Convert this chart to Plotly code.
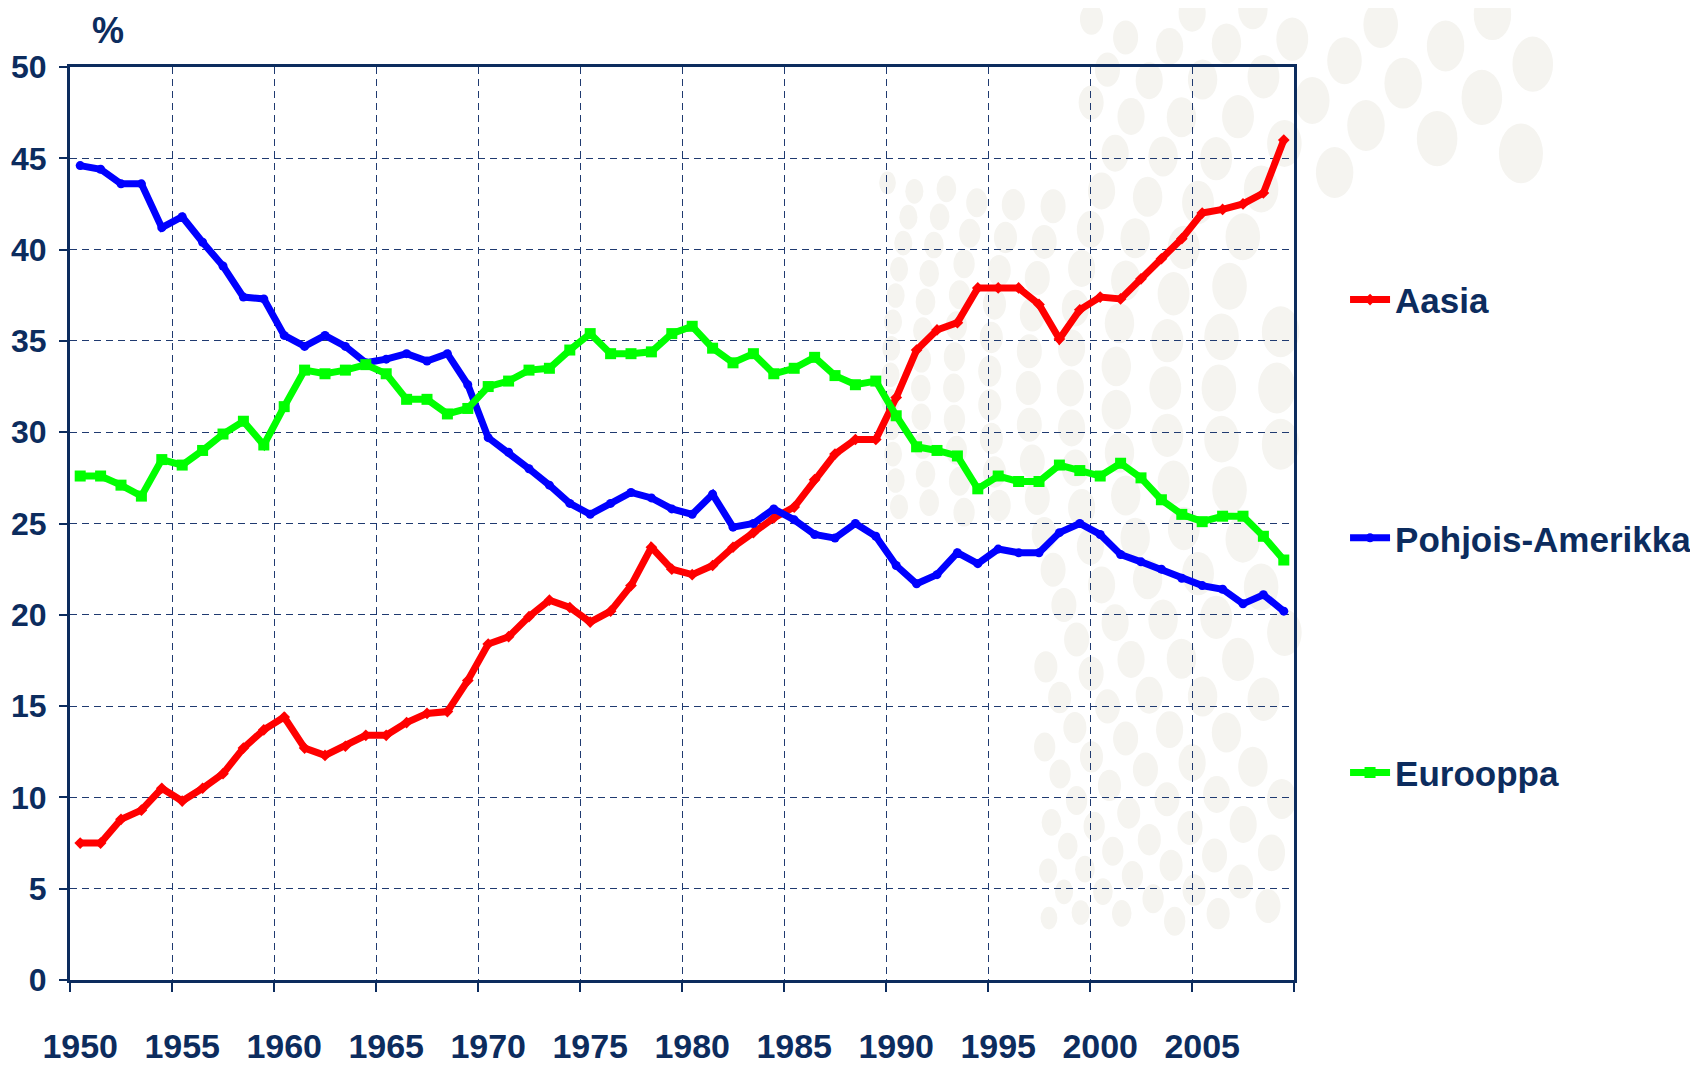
import math
import plotly.graph_objects as go

# Share of world (%), 1950-2009
years = list(range(1950, 2010))

aasia = [
    7.5, 7.5, 8.8, 9.3, 10.5, 9.8, 10.5, 11.3, 12.7, 13.7,
    14.4, 12.7, 12.3, 12.8, 13.4, 13.4, 14.1, 14.6, 14.7, 16.4,
    18.4, 18.8, 19.9, 20.8, 20.4, 19.6, 20.2, 21.6, 23.7, 22.5,
    22.2, 22.7, 23.7, 24.5, 25.3, 25.9, 27.4, 28.8, 29.6, 29.6,
    31.9, 34.5, 35.6, 36.0, 37.9, 37.9, 37.9, 37.0, 35.1, 36.7,
    37.4, 37.3, 38.4, 39.5, 40.6, 42.0, 42.2, 42.5, 43.1, 46.0,
]

pohjois_amerikka = [
    44.6, 44.4, 43.6, 43.6, 41.2, 41.8, 40.4, 39.1, 37.4, 37.3,
    35.3, 34.7, 35.3, 34.7, 33.8, 34.0, 34.3, 33.9, 34.3, 32.6,
    29.7, 28.9, 28.0, 27.1, 26.1, 25.5, 26.1, 26.7, 26.4, 25.8,
    25.5, 26.6, 24.8, 25.0, 25.8, 25.2, 24.4, 24.2, 25.0, 24.3,
    22.7, 21.7, 22.2, 23.4, 22.8, 23.6, 23.4, 23.4, 24.5, 25.0,
    24.4, 23.3, 22.9, 22.5, 22.0, 21.6, 21.4, 20.6, 21.1, 20.2,
]

eurooppa = [
    27.6, 27.6, 27.1, 26.5, 28.5, 28.2, 29.0, 29.9, 30.6, 29.3,
    31.4, 33.4, 33.2, 33.4, 33.7, 33.2, 31.8, 31.8, 31.0, 31.3,
    32.5, 32.8, 33.4, 33.5, 34.5, 35.4, 34.3, 34.3, 34.4, 35.4,
    35.8, 34.6, 33.8, 34.3, 33.2, 33.5, 34.1, 33.1, 32.6, 32.8,
    30.9, 29.2, 29.0, 28.7, 26.9, 27.6, 27.3, 27.3, 28.2, 27.9,
    27.6, 28.3, 27.5, 26.3, 25.5, 25.1, 25.4, 25.4, 24.3, 23.0,
]

x_labels = list(range(1950, 2010, 5))
y_ticks = list(range(0, 51, 5))

NAVY = "#0c2c5e"
GRID = "#1f3a70"
DOT = "#f5f4f0"
FONT = "Liberation Sans, Arial, sans-serif"

W, H = 1690, 1059
L, R, T, B = 62, 404, 59, 87
PW, PH = W - L - R, H - T - B

series = [
    ("Aasia", aasia, "#ff0000", "diamond", 9, "legend"),
    ("Pohjois-Amerikka", pohjois_amerikka, "#0000ff", "circle", 9, "legend2"),
    ("Eurooppa", eurooppa, "#00ff00", "square", 11, "legend3"),
]

fig = go.Figure()
for name, vals, color, symbol, msize, leg in series:
    fig.add_trace(go.Scatter(
        x=years, y=vals, name=name, mode="lines+markers",
        line=dict(color=color, width=7),
        marker=dict(color=color, symbol=symbol, size=msize),
        legend=leg,
    ))


# faint decorative dot swirl in the background (pixel coords of the figure)
def dot_visible(px, py):
    if py < 0 or py > 920 or px > 1550:
        return False
    if py < 165:
        return px > 1070
    if px > 1282 or px < 875:
        return False
    if py > 515 and px < 1035:
        return False
    return True


dots = []
cx, cy = 1700, 380
r = 300.0
while r < 900:
    w = max(15.0, 44 - (r - 300) * 0.05)
    n = int(math.pi * r / (1.45 * w))
    for k in range(n + 1):
        a = math.pi / 2 + math.pi * k / n
        px, py = cx + r * math.cos(a), cy + r * math.sin(a)
        if dot_visible(px, py):
            hw, hh = w / 2, w * 0.68
            dots.append(dict(
                type="circle", xref="paper", yref="paper", layer="below",
                x0=(px - hw - L) / PW, x1=(px + hw - L) / PW,
                y0=(T + PH - py - hh) / PH, y1=(T + PH - py + hh) / PH,
                fillcolor=DOT, line=dict(width=0),
            ))
    r += w * 1.55

legend_common = dict(
    x=1.0417, xanchor="left", yanchor="middle",
    font=dict(family=FONT, size=35, color=NAVY, weight="bold"),
    bgcolor="rgba(0,0,0,0)",
    itemwidth=40,
)

# the page body adds an 8px offset, so the figure is 8px smaller
fig.update_layout(
    width=W, height=H,
    margin=dict(l=L, r=R, t=T, b=B, autoexpand=False),
    paper_bgcolor="white", plot_bgcolor="white",
    showlegend=True,
    legend=dict(y=0.745, **legend_common),
    legend2=dict(y=0.484, **legend_common),
    legend3=dict(y=0.227, **legend_common),
    shapes=dots,
    annotations=[dict(
        text="%", x=0.031, y=1.04, xref="paper", yref="paper",
        xanchor="center", yanchor="middle", showarrow=False,
        font=dict(family=FONT, size=36, color=NAVY, weight="bold"),
    )],
)

fig.update_xaxes(
    range=[1949.5, 2009.5],
    tickmode="array", tickvals=x_labels, ticktext=[str(v) for v in x_labels],
    tickangle=0, automargin=False,
    showgrid=False, ticks="",
    ticklabelstandoff=34,
    tickfont=dict(family=FONT, size=34, color=NAVY, weight="bold"),
    showline=True, linecolor=NAVY, linewidth=3, mirror=True,
    zeroline=False,
    minor=dict(
        tickmode="array",
        tickvals=[v - 0.5 for v in x_labels] + [2009.5],
        showgrid=True, gridcolor=GRID, gridwidth=1, griddash="7px,5px",
        ticks="outside", ticklen=9, tickcolor=NAVY, tickwidth=2,
    ),
)

fig.update_yaxes(
    range=[0, 50], automargin=False,
    tickmode="array", tickvals=y_ticks,
    showgrid=True, gridcolor=GRID, gridwidth=1, griddash="7px,5px",
    ticks="outside", ticklen=8, tickcolor=NAVY, tickwidth=2,
    ticklabelstandoff=6,
    tickfont=dict(family=FONT, size=32, color=NAVY, weight="bold"),
    showline=True, linecolor=NAVY, linewidth=3, mirror=True,
    zeroline=False,
)

fig.write_html("out.html")
